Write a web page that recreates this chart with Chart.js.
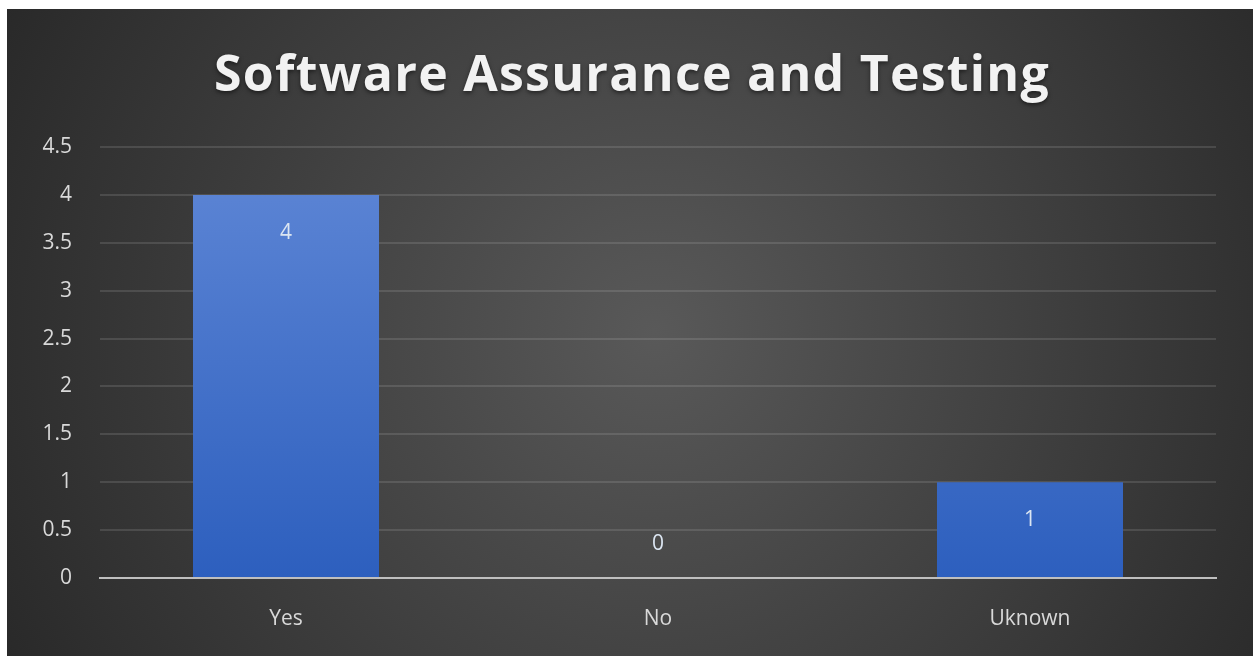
<!DOCTYPE html>
<html>
<head>
<meta charset="utf-8">
<script src="https://cdn.jsdelivr.net/npm/chart.js@4/dist/chart.umd.min.js"></script>
<style>
  html, body { margin: 0; padding: 0; background: #fff; }
  #wrap { position: absolute; left: 7px; top: 9px; width: 1246px; height: 647px; }
</style>
</head>
<body>
<div id="wrap"><canvas id="myChart"></canvas></div>
<script>
    const chartTitle = 'Software Assurance and Testing';
    const categories = ['Yes', 'No', 'Uknown'];
    const responses = [4, 0, 1];
    const yTicks = [0, 0.5, 1, 1.5, 2, 2.5, 3, 3.5, 4, 4.5];

    const labelColor = '#d9d9d9';

    // dark radial background + title
    const backdrop = {
        id: 'backdrop',
        beforeDraw(chart) {
            const {ctx, width, height} = chart;
            ctx.save();
            const g = ctx.createRadialGradient(width * 0.52, height * 0.5, 0, width * 0.52, height * 0.5, width * 0.62);
            g.addColorStop(0, '#595959');
            g.addColorStop(1, '#262626');
            ctx.fillStyle = g;
            ctx.fillRect(0, 0, width, height);
            ctx.restore();
        },
        afterDraw(chart) {
            const {ctx} = chart;
            ctx.save();
            ctx.font = 'bold 50px "Open Sans"';
            ctx.letterSpacing = '0px';
            const w = ctx.measureText(chartTitle).width;
            const spacing = (836 - w) / chartTitle.length;
            ctx.letterSpacing = spacing + 'px';
            ctx.fillStyle = '#f2f2f2';
            ctx.textAlign = 'left';
            ctx.textBaseline = 'middle';
            ctx.shadowColor = 'rgba(0,0,0,0.5)';
            ctx.shadowBlur = 4;
            ctx.shadowOffsetY = 2;
            ctx.fillText(chartTitle, 207, 68);
            ctx.restore();
        }
    };

    // value labels like Excel "inside end"
    const valueLabels = {
        id: 'valueLabels',
        afterDatasetsDraw(chart) {
            const {ctx} = chart;
            const meta = chart.getDatasetMeta(0);
            ctx.save();
            ctx.font = '21px "Open Sans"';
            ctx.fillStyle = '#dce6f2';
            ctx.textAlign = 'center';
            ctx.textBaseline = 'middle';
            meta.data.forEach((bar, i) => {
                const v = responses[i];
                const y = v > 0 ? bar.y + 38 : bar.y - 34;
                ctx.fillText(String(v), bar.x, y);
            });
            ctx.restore();
        }
    };

    const data = {
      labels: categories,
      datasets: [{
        label: 'Responses',
        data: responses,
        backgroundColor: (c) => {
            const area = c.chart.chartArea;
            if (!area) return '#4472c4';
            const g = c.chart.ctx.createLinearGradient(0, area.top, 0, area.bottom);
            g.addColorStop(0, '#5f87d6');
            g.addColorStop(1, '#2d5fbe');
            return g;
        },
        borderWidth: 0,
        categoryPercentage: 1,
        barPercentage: 0.5
      }]
    };

    const config = {
      type: 'bar',
      data,
      options: {
        responsive: true,
        maintainAspectRatio: false,
        animation: false,
        layout: { padding: { top: 138, right: 37, left: 0, bottom: 0 } },
        plugins: {
          legend: { display: false },
          tooltip: { enabled: false },
          title: { display: false }
        },
        scales: {
          x: {
            grid: { display: false, drawTicks: false },
            border: { color: '#bfbfbf', width: 2 },
            ticks: { color: labelColor, font: { family: 'Open Sans', size: 21 }, padding: 28 },
            afterFit: (s) => { s.height = 78; }
          },
          y: {
            min: 0,
            max: 4.5,
            afterBuildTicks: (s) => { s.ticks = yTicks.map(v => ({ value: v })); },
            grid: { color: 'rgba(217,217,217,0.15)', lineWidth: 2, drawTicks: false },
            border: { display: false },
            ticks: {
              color: labelColor,
              font: { family: 'Open Sans', size: 21 },
              padding: 28,
              callback: (v) => String(v)
            },
            afterFit: (s) => { s.width = 93; }
          }
        }
      },
      plugins: [backdrop, valueLabels]
    };

    const myChart = new Chart(
      document.getElementById('myChart'),
      config
    );
</script>
</body>
</html>
